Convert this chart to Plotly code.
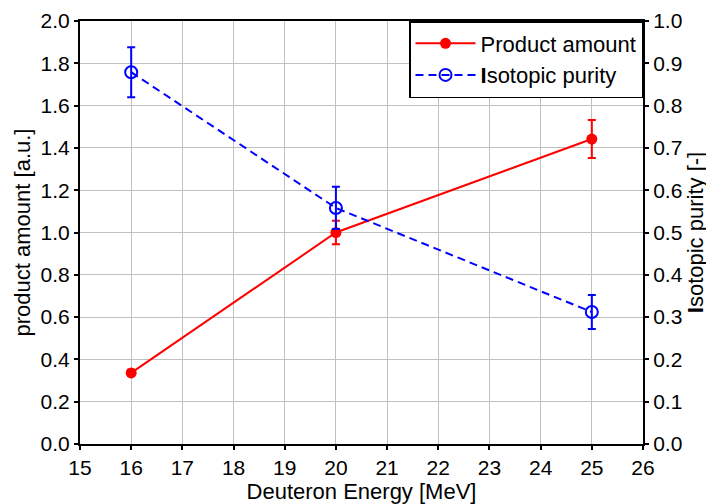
import plotly.graph_objects as go

energy = [16, 20, 25]
product_amount = [0.336, 1.0, 1.442]
product_err = [0.015, 0.055, 0.09]
purity = [0.879, 0.558, 0.312]
purity_err = [0.059, 0.05, 0.04]

FONT = "Liberation Sans, Arial, sans-serif"

fig = go.Figure()
fig.add_trace(go.Scatter(
    x=energy, y=product_amount, name="Product amount", mode="lines+markers",
    line=dict(color="#ff0000", width=2),
    marker=dict(color="#ff0000", size=11, symbol="circle"),
    error_y=dict(type="data", array=product_err, color="#ff0000", thickness=2, width=4),
    yaxis="y",
))
fig.add_trace(go.Scatter(
    x=energy, y=purity, name="<b>I</b>sotopic purity", mode="lines+markers",
    line=dict(color="#0000ff", width=2, dash="8px,5px"),
    marker=dict(color="#0000ff", size=12, symbol="circle-open",
                line=dict(color="#0000ff", width=2)),
    error_y=dict(type="data", array=purity_err, color="#0000ff", thickness=2, width=4),
    yaxis="y2",
))

axis_common = dict(
    showline=True, linecolor="black", linewidth=2, ticks="outside", ticklen=4,
    tickwidth=1.5, tickcolor="black", tickfont=dict(family=FONT, size=21, color="black"),
    zeroline=False, automargin=False,
)

fig.update_layout(
    width=706, height=496,
    margin=dict(l=72, r=71, t=13, b=60),
    paper_bgcolor="white", plot_bgcolor="white",
    font=dict(family=FONT, size=21, color="black"),
    showlegend=True,
    legend=dict(x=1, y=1, xanchor="right", yanchor="top", bgcolor="white",
                bordercolor="black", borderwidth=1.5,
                font=dict(family=FONT, size=22, color="black"),
                itemwidth=60, tracegroupgap=0),
    xaxis=dict(range=[15, 26], dtick=1, showgrid=True, gridcolor="#c0c0c0", gridwidth=1,
               mirror=True,
               title=dict(text="Deuteron Energy [MeV]", font=dict(family=FONT, size=22), standoff=2),
               **axis_common),
    yaxis=dict(range=[0, 2.0], dtick=0.2, tickformat=".1f", showgrid=True, gridcolor="#c0c0c0",
               gridwidth=1,
               title=dict(text="product amount [a.u.]", font=dict(family=FONT, size=22), standoff=4),
               **axis_common),
    yaxis2=dict(range=[0, 1.0], dtick=0.1, tickformat=".1f", overlaying="y", side="right",
                showgrid=False, anchor="x",
                title=dict(text="<b>I</b>sotopic purity [-]", font=dict(family=FONT, size=22), standoff=4),
                **axis_common),
)

fig.write_html("out.html")
